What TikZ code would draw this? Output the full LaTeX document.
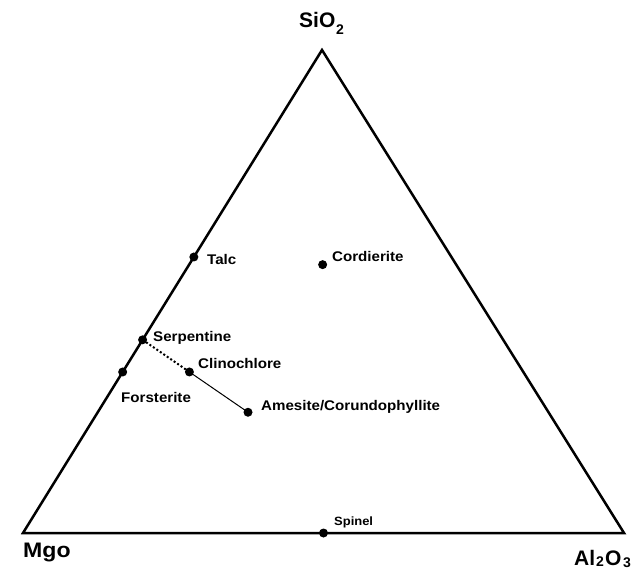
\documentclass[tikz,border=0pt]{standalone}
\usepackage{fontspec}
\setmainfont{Liberation Sans}
\newfontfamily\labfont[FakeStretch=1.08]{Liberation Sans}
\newfontfamily\bigfont[FakeStretch=1.1]{Liberation Sans}
\begin{document}
\begin{tikzpicture}[x=1pt,y=-1pt,
  edge/.style={line width=2.5pt, line join=miter},
  dot/.style={circle, fill=black, inner sep=0pt, minimum size=9pt},
  lab/.style={anchor=base west, inner sep=0pt, font=\labfont\bfseries\fontsize{14}{15}\selectfont},
  biglab/.style={anchor=base west, inner sep=0pt, font=\bfseries\fontsize{21}{22}\selectfont},
  sublab/.style={anchor=base west, inner sep=0pt, font=\bfseries\fontsize{14}{15}\selectfont},
  tie/.style={line width=1pt},
  dotline/.style={line width=2pt, dash pattern=on 2pt off 2.2pt}]
\useasboundingbox (0,0) rectangle (636,569);
\coordinate (M) at (23,533);
\coordinate (A) at (624,533);
\coordinate (S) at (322,50);
\draw[edge] (M) -- (A) -- (S) -- cycle;

\node[dot] (talc) at (barycentric cs:M=3,S=4) {};
\node[dot] (serp) at (barycentric cs:M=3,S=2) {};
\node[dot] (fors) at (barycentric cs:M=2,S=1) {};
\node[dot] (cord) at (barycentric cs:M=2,A=2,S=5) {};
\node[dot] (clin) at (barycentric cs:M=5,A=1,S=3) {};
\node[dot] (ames) at (barycentric cs:M=2,A=1,S=1) {};
\node[dot] (spin) at (barycentric cs:M=1,A=1) {};

\draw[dotline] (serp.center) -- (clin.center);
\draw[tie] (clin.center) -- (ames.center);

\node[lab] (ltalc) at (207,264) {Talc};
\node[lab] (lcord) at (332,261) {Cordierite};
\node[lab] (lserp) at (153,341) {Serpentine};
\node[lab] (lclin) at (198,368) {Clinochlore};
\node[lab] (lfors) at (121,402) {Forsterite};
\node[lab] (lames) at (261,410) {Amesite/Corundophyllite};
\node[lab, font=\labfont\bfseries\fontsize{12}{13}\selectfont] (lspin) at (334,525) {Spinel};

\node[biglab] (lsio) at (299,28) {SiO};
\node[sublab] (lsio2) at (336,35) {2};
\node[biglab, font=\bigfont\bfseries\fontsize{21}{22}\selectfont] (lmgo) at (23,557) {Mgo};
\node[biglab] (lal) at (574,565) {Al};
\node[sublab] (lal2) at (596,566) {2};
\node[biglab] (lalo) at (605,565) {O};
\node[sublab] (lal3) at (623,567) {3};
\end{tikzpicture}
\end{document}
